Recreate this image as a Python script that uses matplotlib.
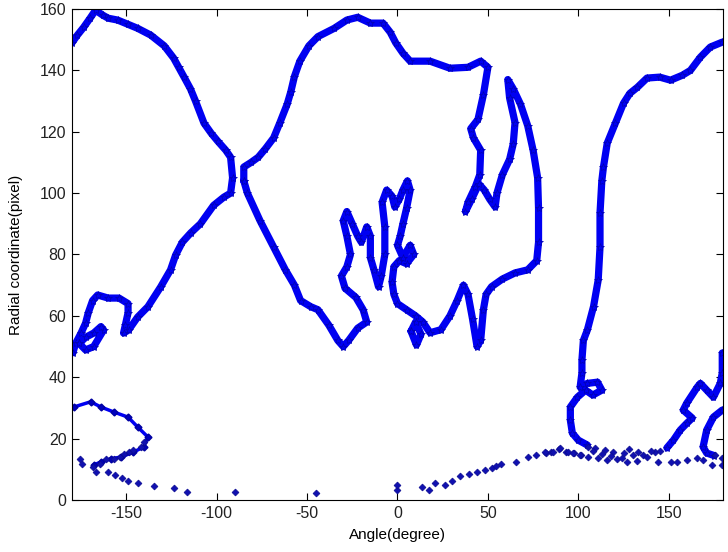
import numpy as np
import matplotlib.pyplot as plt

plt.rcParams['font.family'] = ['Liberation Sans', 'DejaVu Sans']
plt.rcParams['axes.unicode_minus'] = False

# left contour (top-left arch + branch going down-left)
left_x = [-180, -177, -173.6, -170, -167, -163, -160, -154.8, -149, -143.7, -136.5, -129, -123.8,
          -121, -118, -114.5, -111.7, -107, -103, -99.5, -95, -92.3, -91.2, -92.3, -96, -101.7,
          -109, -114.4, -119, -122.7, -125.5, -131, -138, -143.7, -148.7, -151.5, -150.5, -149,
          -149, -154, -160, -165.8, -168.6, -171, -172.5, -175, -178, -179.5]
left_y = [149, 151.5, 154, 157, 159.6, 158, 157, 156.4, 155, 153.7, 151.5, 148, 144,
          141, 137.8, 134, 130, 122.8, 119.5, 117, 114, 111.7, 105, 100, 98.7, 96,
          90, 87, 84, 79.8, 75, 69.4, 63, 59.6, 55.4, 54.4, 57, 61,
          64, 65.8, 65.8, 66.8, 65, 61, 57.6, 54.4, 51, 48]

# small loop at the left edge
loop_x = [-176, -172.5, -168, -162.5, -164, -168, -172.5, -176]
loop_y = [51, 48.9, 50, 55.4, 56.5, 54.4, 53, 51]

# central closed contour
mid_x = [-85, -83, -76, -68.5, -62, -57, -53.6, -48, -44, -38, -33, -30,
         -27, -22, -17, -19, -23, -29, -31, -28, -26, -28, -30, -28, -25, -22, -20, -17,
         -15, -15, -13, -10.5, -9, -7, -7, -8.5, -6, -3, -1.5, 1, 3, 5.5, 7, 5, 3, 1.5,
         0, 3, 7, 9, 5, 1, -2, -3, -2, 0, 5, 10, 14, 18, 24, 29, 33, 36.5, 39, 41.5,
         44, 46, 47.5, 49, 52, 58, 65, 72, 77, 78, 78, 77.5, 75, 72, 68, 64, 61, 62, 65,
         64, 62, 58, 55, 54, 51, 48, 45, 41, 37.6, 39, 43, 45.5, 46, 42, 40.5, 44.5,
         47.5, 50, 46, 39, 29, 18, 7, 3, -1, -4, -8, -15, -22, -28, -35, -44, -49, -54,
         -57, -59, -61, -65, -68.5, -73, -77, -81, -85, -85]
mid_y = [104, 100, 91, 82.4, 75, 70, 65, 63, 62, 57, 52, 50,
         52, 56, 58, 62, 66, 69, 73, 76, 80, 86, 91, 94, 90, 86, 84, 89,
         86, 79, 75, 69.5, 73, 80, 89, 97, 101, 99, 95.5, 98, 101, 104, 101, 95, 90, 86,
         83, 79, 83, 80, 77, 78, 76, 71, 67, 64, 62, 60, 58, 54.5, 55.5, 60, 65, 70, 67, 59,
         50, 52, 62, 67, 69.5, 72, 74, 75, 78, 84, 95, 105, 114, 122, 129, 134, 137, 131, 123,
         116, 111, 106, 100, 95.5, 98, 101, 103, 98, 94, 97, 102, 106, 114, 118, 121, 124,
         132, 141, 143, 141, 140.7, 143, 143, 145.6, 149, 152.4, 155.4, 155.4, 157.3, 156.4, 153.7, 151, 148, 143,
         138, 133, 129, 123, 118, 114.5, 111.7, 110, 108.5, 104]

# small loop under the middle contour
sloop_x = [7.5, 10, 13, 10.5, 7.5]
sloop_y = [55, 58, 54, 50.5, 55]

# right contour, from the bottom up to the right edge
right_x = [105, 100, 96.7, 95.6, 95.6, 99.5, 104, 108, 113, 110.6, 105, 101, 102, 102,
           102.8, 105, 108.4, 111, 112, 112, 113, 113.9, 116, 120.5, 125, 128.5, 132.7, 138, 145,
           151, 157.5, 162, 167.5, 173, 179.6]
right_y = [17.9, 19.5, 21.8, 26, 30.3, 33.5, 35.8, 34.2, 35.8, 38.4, 38, 36.8, 41.4, 45.6,
           52, 55.4, 63, 71.7, 82.4, 93.5, 104, 108.5, 116.3, 122.8, 129.3, 132.5, 134.5, 137.5, 137.8,
           136.8, 138.4, 140, 144.3, 147.6, 149.2]

# hooks at the right edge
hook_x = [149, 152.6, 156.4, 160, 163, 158, 160, 165.8, 167.5, 171, 174.7, 178.5, 179.6, 179.6]
hook_y = [17, 19.5, 22.8, 25, 26.7, 29.3, 31.6, 36.8, 38, 35.8, 33.5, 38, 41.4, 47.9]
hook2_x = [179.6, 174.7, 171, 169, 171, 175]
hook2_y = [29.3, 27, 22.8, 17.3, 15.3, 14.5]

# lower left contour
low_x = [-179, -169.7, -164, -157, -149, -143.7, -138, -140.4, -146, -153, -158.7, -164, -168]
low_y = [30.3, 32, 30.3, 28.7, 27, 23.8, 20.5, 17.3, 15.6, 14, 13.4, 12.4, 11.4]

# sparse points near the bottom
pts_x = [-175.8, -174.7, -168.6, -167, -164.7, -161.4, -157, -153.7, -151, -148.7, -146, -142,
         -140.4, -160, -156.4, -152.6, -149, -143.7, -134.9, -123.8, -116.6, -90, -45,
         -0.5, -0.5, 13.3, 17.7, 21, 26, 30.4, 34.3, 39.3, 44.2, 48.6, 52, 54.7, 57.5,
         65.8, 71.9, 76.8, 82.4, 85, 89.5, 93.4, 97.8, 101.7,
         81.8, 86, 90, 94.5, 97, 101, 105.6, 109.5, 115, 119.4, 125, 130.5, 136, 142.6, 145,
         105.6, 111, 116, 121.6, 127, 132.7, 138, 144, 151, 154.8, 160, 165.8, 169, 174,
         175.8, 179.6, 179.6, 108, 113, 118, 124, 128, 133, 140]
pts_y = [13.4, 11.7, 10.7, 9, 11.7, 13.4, 13.4, 14, 15, 15.6, 16.3, 17.3,
         19, 9, 8.1, 7.2, 6.2, 5.5, 4.6, 3.9, 2.6, 2.6, 2.3,
         3.3, 5, 4.2, 3.3, 5.5, 4.9, 6.2, 7.8, 8.5, 9.1, 9.8, 10.4, 11.1, 11.7,
         12.4, 14, 14.7, 15.3, 15.6, 16.6, 15.6, 15.3, 14.7,
         15.6, 15.6, 17, 15.6, 15.3, 14.7, 17.3, 17, 16.3, 15.6, 15.3, 14.7, 14.7, 15.6, 16,
         14, 13.7, 13, 13.4, 12.4, 12.7, 14, 12.4, 12.4, 12.4, 13, 13.7, 13, 11.4,
         14.7, 13.7, 11.4, 16, 15, 14.2, 13.6, 16.5, 15.5, 16]

fig = plt.figure(figsize=(7.28, 5.52), dpi=100)
ax = fig.add_axes([0.0989, 0.0942, 0.8942, 0.8895])

blue = '#0000f2'
for cx, cy in [(left_x, left_y), (loop_x, loop_y), (mid_x, mid_y), (sloop_x, sloop_y),
               (right_x, right_y), (hook_x, hook_y), (hook2_x, hook2_y)]:
    ax.plot(cx, cy, '-', color=blue, lw=5.2, solid_joinstyle='round', solid_capstyle='round',
            marker='*', ms=6, mec='#0000b0', mfc=blue, mew=0.5)

ax.plot(low_x, low_y, '-', color=blue, lw=2.5, marker='D', ms=3.5, mec='#0000a0', mfc='#0000c0')
ax.plot(pts_x, pts_y, 'D', ms=3.5, mec='#0a0a90', mfc='#1010b0', mew=0.5)

ax.set_xlim(-180, 180)
ax.set_ylim(0, 160)
ax.set_xticks([-150, -100, -50, 0, 50, 100, 150])
ax.set_yticks([0, 20, 40, 60, 80, 100, 120, 140, 160])
ax.tick_params(direction='in', top=True, right=True, labelsize=11.5, length=5, width=0.8,
               labelcolor='#222222', pad=4)
for s in ax.spines.values():
    s.set_linewidth(0.8)
ax.set_xlabel('Angle(degree)', fontsize=11, labelpad=5)
ax.set_ylabel('Radial coordinate(pixel)', fontsize=11, labelpad=12)

fig.savefig('out.png', dpi=100)
